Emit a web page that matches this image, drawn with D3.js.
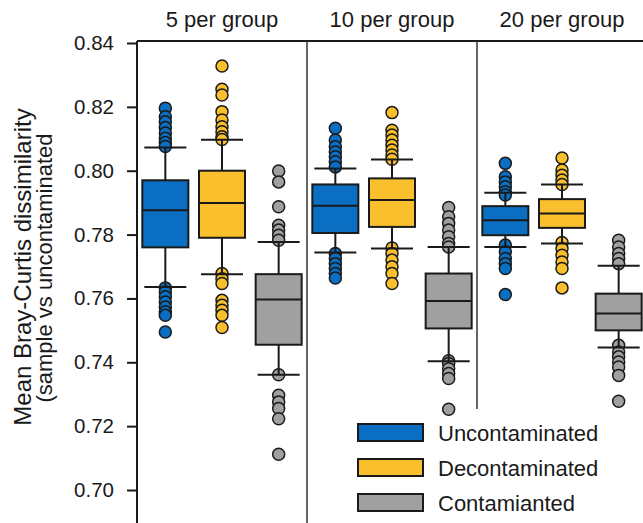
<!DOCTYPE html>
<html>
<head>
<meta charset="utf-8">
<script src="https://cdn.jsdelivr.net/npm/d3@7"></script>
<style>
  html, body { margin: 0; padding: 0; background: #fff; }
  svg { display: block; font-family: Arial, "Liberation Sans", sans-serif; }
</style>
</head>
<body>
<div id="chart"></div>
<script>
const groups = ["5 per group", "10 per group", "20 per group"];
const series = ["Uncontaminated", "Decontaminated", "Contamianted"];
const colors = ["#0a6fc2", "#f9bf2c", "#a0a0a0"];
const yTicks = [0.70, 0.72, 0.74, 0.76, 0.78, 0.80, 0.82, 0.84];

// [lower whisker, q1, median, q3, upper whisker] per group
const uncontaminatedStats = [
  [0.7636, 0.7760, 0.7876, 0.7970, 0.8073],
  [0.7744, 0.7805, 0.7890, 0.7957, 0.8007],
  [0.7761, 0.7798, 0.7845, 0.7889, 0.7931]
];
const decontaminatedStats = [
  [0.7676, 0.7790, 0.7899, 0.8000, 0.8097],
  [0.7756, 0.7824, 0.7908, 0.7976, 0.8035],
  [0.7772, 0.7821, 0.7866, 0.7911, 0.7957]
];
const contaminatedStats = [
  [0.7361, 0.7455, 0.7597, 0.7676, 0.7777],
  [0.7403, 0.7506, 0.7592, 0.7678, 0.7761],
  [0.7446, 0.7500, 0.7553, 0.7615, 0.7702]
];

const uncontaminatedOutliers = [
  [0.8196, 0.8169, 0.8153, 0.8135, 0.8118, 0.8102, 0.8088, 0.8076,
   0.7633, 0.7620, 0.7605, 0.7589, 0.7573, 0.7558, 0.7547, 0.7495],
  [0.8133, 0.8096, 0.8075, 0.8059, 0.8044, 0.8028, 0.8012,
   0.7741, 0.7725, 0.7709, 0.7694, 0.7678, 0.7664],
  [0.8023, 0.7981, 0.7965, 0.7950, 0.7934, 0.7924,
   0.7767, 0.7746, 0.7725, 0.7709, 0.7694, 0.7612]
];
const decontaminatedOutliers = [
  [0.8328, 0.8255, 0.8237, 0.8185, 0.8159, 0.8138, 0.8122, 0.8106, 0.8098,
   0.7678, 0.7662, 0.7647, 0.7594, 0.7579, 0.7563, 0.7547, 0.7509],
  [0.8182, 0.8127, 0.8112, 0.8096, 0.8080, 0.8065, 0.8049, 0.8036,
   0.7758, 0.7741, 0.7720, 0.7699, 0.7678, 0.7647],
  [0.8040, 0.8002, 0.7986, 0.7971, 0.7957,
   0.7775, 0.7756, 0.7735, 0.7714, 0.7694, 0.7633]
];
const contaminatedOutliers = [
  [0.7999, 0.7965, 0.7887, 0.7829, 0.7814, 0.7798, 0.7782,
   0.7361, 0.7297, 0.7276, 0.7255, 0.7223, 0.7112],
  [0.7885, 0.7856, 0.7835, 0.7814, 0.7793, 0.7772, 0.7761,
   0.7405, 0.7396, 0.7380, 0.7365, 0.7349, 0.7253],
  [0.7782, 0.7761, 0.7741, 0.7725, 0.7709,
   0.7453, 0.7432, 0.7417, 0.7401, 0.7385, 0.7359, 0.7278]
];

const allStats = [uncontaminatedStats, decontaminatedStats, contaminatedStats];
const allOutliers = [uncontaminatedOutliers, decontaminatedOutliers, contaminatedOutliers];

const width = 643, height = 523;
const plotLeft = 137, plotTop = 41;
const boxW = 46, capW = 42, pointR = 6;
const ink = "#1a1a1a";

const svg = d3.select("#chart").append("svg")
  .attr("width", width)
  .attr("height", height);

const yScale = d3.scaleLinear().domain([0.70, 0.84]).range([490, 43]);
const panelX = d3.scaleBand().domain(groups).range([plotLeft, plotLeft + 510]);
const seriesX = d3.scalePoint().domain(series).range([0, panelX.bandwidth()]).padding(0.5);

// y axis
const yAxis = svg.append("g")
  .attr("transform", `translate(${plotLeft},0)`)
  .call(d3.axisLeft(yScale).tickValues(yTicks).tickFormat(d3.format(".2f")).tickSize(10).tickPadding(13));
yAxis.select(".domain").remove();
yAxis.selectAll(".tick line").attr("stroke", ink).attr("stroke-width", 2);
yAxis.selectAll(".tick text").attr("fill", ink).style("font-size", "20.5px").style("font-family", "Arial, 'Liberation Sans', sans-serif");

svg.append("line")
  .attr("x1", plotLeft).attr("x2", plotLeft)
  .attr("y1", plotTop).attr("y2", height)
  .attr("stroke", ink).attr("stroke-width", 2);
svg.append("line")
  .attr("x1", plotLeft).attr("x2", width)
  .attr("y1", plotTop).attr("y2", plotTop)
  .attr("stroke", ink).attr("stroke-width", 2);

// panel dividers
groups.slice(1).forEach(g => {
  svg.append("line")
    .attr("x1", panelX(g)).attr("x2", panelX(g))
    .attr("y1", plotTop).attr("y2", height)
    .attr("stroke", "#333").attr("stroke-width", 1.5);
});

// panel titles
svg.selectAll("text.panel-title")
  .data(groups)
  .join("text")
  .attr("class", "panel-title")
  .attr("x", g => panelX(g) + panelX.bandwidth() / 2)
  .attr("y", 27)
  .attr("text-anchor", "middle")
  .attr("fill", ink)
  .style("font-size", "22px")
  .text(g => g);

// y label
const yLabel = svg.append("text")
  .attr("transform", "rotate(-90)")
  .attr("text-anchor", "middle")
  .attr("fill", ink);
yLabel.append("tspan").attr("x", -267).attr("y", 31).style("font-size", "24px")
  .text("Mean Bray-Curtis dissimilarity");
yLabel.append("tspan").attr("x", -268).attr("y", 52).style("font-size", "22px")
  .text("(sample vs uncontaminated");

// legend background (covers divider below the plot)
const legendX = 358, legendY = 424, rowH = 35;
svg.append("rect")
  .attr("x", 345).attr("y", 409)
  .attr("width", width - 345).attr("height", height - 409)
  .attr("fill", "#fff");

// box plots
const boxes = svg.append("g");
series.forEach((s, si) => {
  groups.forEach((g, gi) => {
    const cx = panelX(g) + seriesX(s);
    const [lo, q1, med, q3, hi] = allStats[si][gi];
    const b = boxes.append("g");

    b.selectAll("circle")
      .data(allOutliers[si][gi])
      .join("circle")
      .attr("cx", cx)
      .attr("cy", d => yScale(d))
      .attr("r", pointR)
      .attr("fill", colors[si])
      .attr("stroke", ink)
      .attr("stroke-width", 1.5);

    b.append("line")
      .attr("x1", cx).attr("x2", cx)
      .attr("y1", yScale(lo)).attr("y2", yScale(hi))
      .attr("stroke", ink).attr("stroke-width", 2);

    b.append("rect")
      .attr("x", cx - boxW / 2)
      .attr("y", yScale(q3))
      .attr("width", boxW)
      .attr("height", yScale(q1) - yScale(q3))
      .attr("fill", colors[si])
      .attr("stroke", ink)
      .attr("stroke-width", 2);

    b.append("line")
      .attr("x1", cx - boxW / 2).attr("x2", cx + boxW / 2)
      .attr("y1", yScale(med)).attr("y2", yScale(med))
      .attr("stroke", ink).attr("stroke-width", 2);

    [lo, hi].forEach(v => {
      b.append("line")
        .attr("x1", cx - capW / 2).attr("x2", cx + capW / 2)
        .attr("y1", yScale(v)).attr("y2", yScale(v))
        .attr("stroke", ink).attr("stroke-width", 2);
    });
  });
});

// legend
const legend = svg.append("g");
series.forEach((s, i) => {
  legend.append("rect")
    .attr("x", legendX)
    .attr("y", legendY + i * rowH)
    .attr("width", 65)
    .attr("height", 17)
    .attr("fill", colors[i])
    .attr("stroke", ink)
    .attr("stroke-width", 2);
  legend.append("text")
    .attr("x", 438)
    .attr("y", legendY + i * rowH + 16.5)
    .attr("fill", ink)
    .style("font-size", "22px")
    .text(s);
});
</script>
</body>
</html>
